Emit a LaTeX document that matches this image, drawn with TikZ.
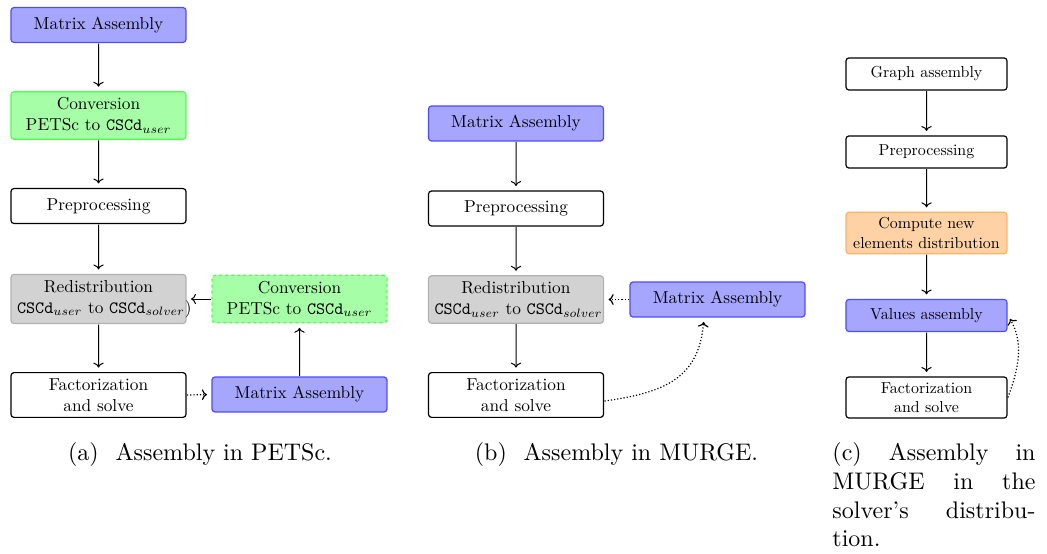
\documentclass[tikz,border=0pt]{standalone}
\usetikzlibrary{calc,arrows.meta}
\newcommand\cscd{\texttt{CSCd}}
\begin{document}
\begin{tikzpicture}[x=1pt,y=1pt,
  box/.style={draw=black, fill=white, rounded corners=3pt, line width=1.2pt,
    scale=1.73, transform shape,
    text width=94.2pt, align=center, inner xsep=3.47pt, inner ysep=3.47pt,
    minimum height=20.2pt, font=\fontsize{10}{12}\selectfont},
  cbox/.style={box, scale=0.92},
  bluebox/.style={fill=blue!35, draw=blue!70},
  greenbox/.style={fill=green!35, draw=green!70},
  graybox/.style={fill=gray!35, draw=gray!60},
  orangebox/.style={fill=orange!35, draw=orange!60},
  arr/.style={-{To[scale=1.3]}, line width=1pt, shorten >=4pt},
  darr/.style={-{To[scale=1.2]}, dotted, line width=1.2pt, shorten >=4pt},
  captext/.style={font=\fontsize{10}{12}\selectfont, inner sep=0pt, scale=2.4, transform shape}]
\useasboundingbox (0,0) rectangle (1047,-554);

% panel (a)
\node[box, bluebox] (A1) at (98.5,-25) {Matrix Assembly};
\node[box, greenbox] (A2) at (98.5,-115.5) {Conversion\\ PETSc to \cscd$_{user}$};
\node[box] (A3) at (98.5,-206) {Preprocessing};
\node[box, graybox] (A4) at (98.5,-299) {Redistribution\\ \cscd$_{user}$~to~\cscd$_{solver}$)};
\node[box, greenbox, dashed] (A5) at (299.5,-299) {Conversion\\ PETSc to \cscd$_{user}$};
\node[box] (A6) at (98.5,-395) {Factorization\\ and solve};
\node[box, bluebox] (A7) at (299.5,-394.5) {Matrix Assembly};
\draw[arr] (A1) -- (A2);
\draw[arr] (A2) -- (A3);
\draw[arr] (A3) -- (A4);
\draw[arr] (A4) -- (A6);
\draw[darr] (A6.east) -- (A7.west);
\draw[arr] (A7) -- (A5);
\draw[arr] (A5.west) -- (A4.east);

% panel (b)
\node[box, bluebox] (B1) at (516,-123.5) {Matrix Assembly};
\node[box] (B2) at (516,-208.5) {Preprocessing};
\node[box, graybox] (B3) at (516,-299.5) {Redistribution\\ \cscd$_{user}$~to~\cscd$_{solver}$};
\node[box, bluebox] (B4) at (717.5,-299.5) {Matrix Assembly};
\node[box] (B5) at (516,-395) {Factorization\\ and solve};
\draw[arr] (B1) -- (B2);
\draw[arr] (B2) -- (B3);
\draw[arr] (B3) -- (B5);
\draw[darr] (B4.west) -- (B3.east);
\coordinate (B5s) at ($(B5.east)+(0,-6)$);
\coordinate (B4t) at ($(B4.south)+(-13.5,0)$);
\draw[darr] (B5s) to[out=8, in=-95, looseness=1.2] (B4t);

% panel (c)
\node[cbox] (C1) at (926.5,-74) {Graph assembly};
\node[cbox] (C2) at (926.5,-152) {Preprocessing};
\node[cbox, orangebox] (C3) at (926.5,-233) {Compute new\\ elements distribution};
\node[cbox, bluebox] (C4) at (926.5,-315.5) {Values assembly};
\node[cbox] (C5) at (926.5,-397.5) {Factorization\\ and solve};
\draw[arr] (C1) -- (C2);
\draw[arr] (C2) -- (C3);
\draw[arr] (C3) -- (C4);
\draw[arr] (C4) -- (C5);
\draw[darr] (C5.east) to[out=70, in=-60] (C4.east);

% captions
\node[captext, anchor=base] (capa) at (200,-460) {(a)\hspace{7pt}Assembly in PETSc.};
\node[captext, anchor=base] (capb) at (616.5,-460) {(b)\hspace{7pt}Assembly in MURGE.};
\node[captext, anchor=north west, text width=84.6pt, align=left] (capc) at (832,-442)
  {(c)\hfill Assembly\hfill in\\ MURGE\hfill in\hfill the\\ solver's\hfill distribu-\\ tion.};
\end{tikzpicture}
\end{document}
